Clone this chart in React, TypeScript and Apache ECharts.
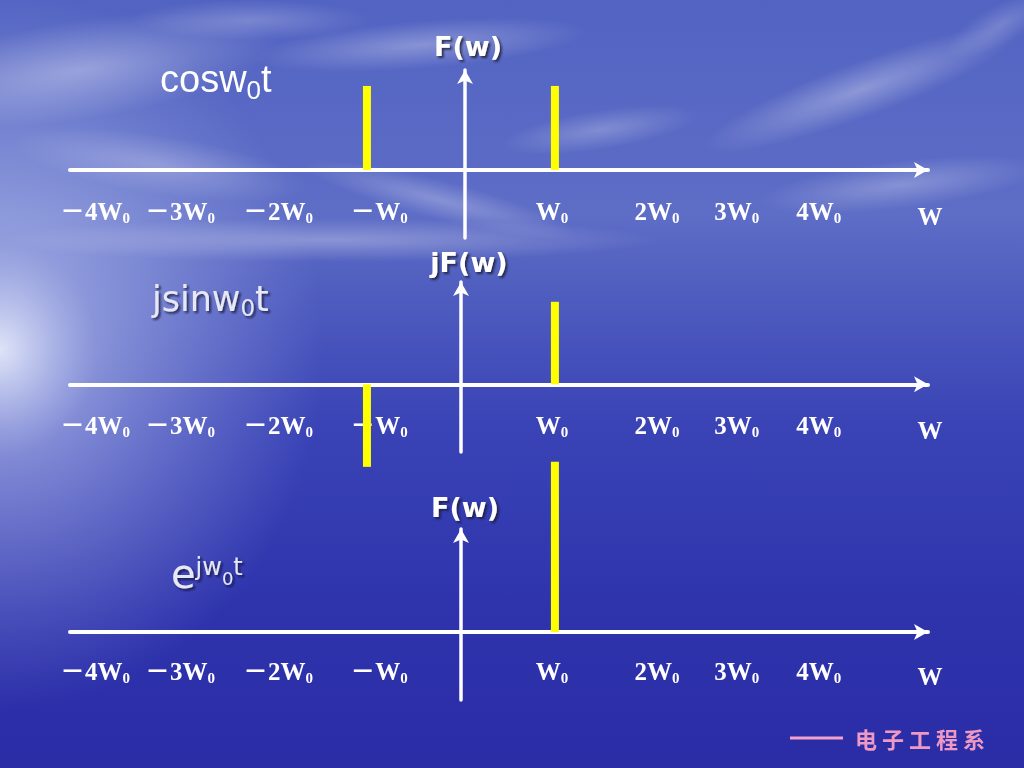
import React, { useEffect, useRef } from "react";
import * as echarts from "echarts";

// ---- data ----
const tickValues = [-4, -3, -2, -1, 1, 2, 3, 4];
const tickLabels = ["－4W", "－3W", "－2W", "－W", "W", "2W", "3W", "4W"];
const endTickValue = 4.95;
const endTickLabel = "W";

const cosFreq = [-1, 1];
const cosAmp = [1, 1];
const sinFreq = [-1, 1];
const sinAmp = [-1, 1];
const expFreq = [1];
const expAmp = [2];

const yNames = ["F(w)", "jF(w)", "F(w)"];
const xRange = [-4.16, 4.97];
const yMin = [-0.81, -0.82, -0.8];
const yMax = [1.19, 1.24, 1.21];

// ---- layout (not data) ----
const gridTop = [70, 282, 529];
const gridHeight = [168, 170, 171];
const yAxisX = [465, 461, 461];
const nameGaps = [10, 6, 8];
const namePadLeft = [6, 16, 8];
const labelMargins = [-39, -39, -41];
const labelShift = [10, 1, 5, 12, -3, 8, -6, -18];
const endLabelShift = 4;

const SERIF = "'Liberation Serif','Times New Roman','Noto Sans CJK SC',serif";
const SANS_V = "'DejaVu Sans','Noto Sans',sans-serif";

function labelFormatter(v: number) {
  if (Math.abs(v - endTickValue) < 1e-6) return "{w|" + endTickLabel + "}";
  const i = tickValues.findIndex((t) => Math.abs(t - v) < 1e-6);
  if (i < 0) return "";
  return "{a" + i + "|" + tickLabels[i] + "}{s" + i + "|0}";
}

const richLabel: any = {
  w: {
    fontFamily: SERIF, fontWeight: "bold", fontSize: 25, color: "#ffffff", lineHeight: 26,
    verticalAlign: "top", padding: [5, 0, 0, Math.max(0, 2 * endLabelShift)],
  },
};
labelShift.forEach((d, i) => {
  richLabel["a" + i] = {
    fontFamily: SERIF, fontWeight: "bold", fontSize: 25, color: "#ffffff", lineHeight: 26,
    verticalAlign: "top", padding: [0, 0, 0, Math.max(0, 2 * d)],
  };
  richLabel["s" + i] = {
    fontFamily: SERIF, fontWeight: "bold", fontSize: 15, color: "#ffffff", lineHeight: 15,
    verticalAlign: "top", padding: [11, Math.max(0, -2 * d), 0, 0],
  };
});

const clouds = [
  { x: 80, y: 70, r: 50, sx: 4, rot: 0.15, o: 0.34 },
  { x: 420, y: 45, r: 24, sx: 7, rot: 0.08, o: 0.3 },
  { x: 440, y: 200, r: 20, sx: 7, rot: -0.25, o: 0.26 },
  { x: 600, y: 130, r: 20, sx: 5, rot: 0.15, o: 0.24 },
  { x: 860, y: 90, r: 28, sx: 6, rot: 0.35, o: 0.32 },
  { x: 900, y: 185, r: 24, sx: 6, rot: 0.12, o: 0.26 },
  { x: 160, y: 165, r: 30, sx: 5, rot: -0.15, o: 0.24 },
  { x: 330, y: 240, r: 22, sx: 15, rot: 0, o: 0.3 },
  { x: 1000, y: 25, r: 20, sx: 3, rot: 0.5, o: 0.2 },
  { x: 250, y: 20, r: 20, sx: 6, rot: 0, o: 0.22 },
];

export default function App() {
  const ref = useRef<HTMLDivElement>(null);
  useEffect(() => {
    if (!ref.current) return;
    const chart = echarts.init(ref.current, null, { renderer: "svg" });

    const bg: any[] = [
      {
        type: "rect",
        z: -10,
        silent: true,
        shape: { x: 0, y: 0, width: 1024, height: 768 },
        style: {
          fill: new echarts.graphic.LinearGradient(0, 0, 0, 1, [
            { offset: 0, color: "#5263c2" },
            { offset: 0.28, color: "#5e6dc6" },
            { offset: 0.36, color: "#5260c0" },
            { offset: 0.55, color: "#3a44b6" },
            { offset: 0.8, color: "#2e33ac" },
            { offset: 1, color: "#2a2ca6" },
          ]),
        },
      },
      {
        type: "circle",
        z: -9,
        silent: true,
        x: 0,
        y: 350,
        scaleX: 0.9,
        shape: { cx: 0, cy: 0, r: 360 },
        style: {
          fill: new echarts.graphic.RadialGradient(0.5, 0.5, 0.5, [
            { offset: 0, color: "rgba(240,244,255,0.9)" },
            { offset: 0.3, color: "rgba(200,210,245,0.5)" },
            { offset: 1, color: "rgba(180,190,240,0)" },
          ]),
        },
      },
      ...clouds.map((c) => ({
        type: "circle",
        z: -8,
        silent: true,
        x: c.x,
        y: c.y,
        scaleX: c.sx,
        rotation: c.rot,
        shape: { cx: 0, cy: 0, r: c.r },
        style: {
          fill: new echarts.graphic.RadialGradient(0.5, 0.5, 0.5, [
            { offset: 0, color: "rgba(255,255,255," + c.o + ")" },
            { offset: 1, color: "rgba(255,255,255,0)" },
          ]),
        },
      })),
    ];

    const shadow = { textShadowColor: "rgba(20,20,50,0.75)", textShadowOffsetX: 2, textShadowOffsetY: 2, textShadowBlur: 2 };
    const ARIAL = "'Liberation Sans',Arial,sans-serif";

    const titles: any[] = [
      {
        type: "text",
        z: 10,
        x: 160,
        y: 60,
        style: {
          text: "{m|cosw}{s|0}{m|t}",
          align: "left",
          verticalAlign: "top",
          rich: {
            m: { fontFamily: ARIAL, fontSize: 38, fill: "#ffffff", verticalAlign: "top" },
            s: { fontFamily: ARIAL, fontSize: 26, fill: "#ffffff", verticalAlign: "top", padding: [17, 0, 0, 0] },
          },
        },
      },
      {
        type: "text",
        z: 10,
        x: 152,
        y: 281,
        style: {
          text: "{m|jsinw}{s|0}{m|t}",
          align: "left",
          verticalAlign: "top",
          rich: {
            m: { fontFamily: SANS_V, fontSize: 35, fill: "#e6e8f6", verticalAlign: "top", ...shadow },
            s: { fontFamily: SANS_V, fontSize: 23, fill: "#e6e8f6", verticalAlign: "top", padding: [15, 0, 0, 0], ...shadow },
          },
        },
      },
      {
        type: "text",
        z: 10,
        x: 171,
        y: 551,
        style: {
          text: "{e|e}{p|jw}{s|0}{p|t}",
          align: "left",
          verticalAlign: "top",
          rich: {
            e: { fontFamily: SANS_V, fontSize: 40, fill: "#e6e8f6", verticalAlign: "top", padding: [3, 0, 0, 0], ...shadow },
            p: { fontFamily: SANS_V, fontSize: 24, fill: "#e6e8f6", verticalAlign: "top", padding: [4, 0, 0, 0], ...shadow },
            s: { fontFamily: SANS_V, fontSize: 18, fill: "#e6e8f6", verticalAlign: "top", padding: [18, 0, 0, 0], ...shadow },
          },
        },
      },
      {
        type: "line",
        z: 10,
        shape: { x1: 790, y1: 738, x2: 843, y2: 738 },
        style: { stroke: "#f2a2cc", lineWidth: 3 },
      },
      {
        type: "text",
        z: 10,
        x: 855,
        y: 738,
        style: {
          text: "电 子 工 程 系",
          fontFamily: "'Noto Sans CJK SC',sans-serif",
          fontWeight: "bold",
          fontSize: 22,
          fill: "#ee98c4",
          align: "left",
          verticalAlign: "middle",
        },
      },
    ];

    const grids = [0, 1, 2].map((i) => ({
      left: 70,
      width: 858,
      top: gridTop[i],
      height: gridHeight[i],
      containLabel: false,
      outerBoundsMode: "none",
    }));

    const xAxes = [0, 1, 2].map((i) => ({
      type: "value",
      gridIndex: i,
      min: xRange[0],
      max: xRange[1],
      axisLine: {
        show: true,
        onZero: true,
        symbol: ["none", "arrow"],
        symbolSize: [12, 14],
        lineStyle: { color: "#ffffff", width: 4 },
      },
      axisTick: { show: false },
      splitLine: { show: false },
      axisLabel: {
        show: true,
        margin: labelMargins[i],
        hideOverlap: false,
        customValues: [...tickValues, endTickValue],
        formatter: labelFormatter,
        rich: richLabel,
      },
    }));

    const yAxes = [0, 1, 2].map((i) => ({
      type: "value",
      gridIndex: i,
      min: yMin[i],
      max: yMax[i],
      position: "left",
      offset: -(yAxisX[i] - 70),
      name: yNames[i],
      nameLocation: "end",
      nameGap: nameGaps[i],
      nameTextStyle: {
        fontFamily: SANS_V,
        fontWeight: "bold",
        fontSize: 27,
        color: "#ffffff",
        align: "center",
        padding: [0, 0, 0, namePadLeft[i]],
        textShadowColor: "rgba(20,20,50,0.8)",
        textShadowOffsetX: 2,
        textShadowOffsetY: 2,
        textShadowBlur: 2,
      },
      axisLine: {
        show: true,
        onZero: false,
        symbol: ["none", "arrow"],
        symbolSize: [12, 14],
        lineStyle: { color: "#ffffff", width: 3.5 },
      },
      axisTick: { show: false },
      axisLabel: { show: false },
      splitLine: { show: false },
    }));

    const mk = (fx: number[], amp: number[]) => fx.map((f, k) => [f, amp[k]]);
    const seriesData = [mk(cosFreq, cosAmp), mk(sinFreq, sinAmp), mk(expFreq, expAmp)];

    chart.setOption({
      animation: false,
      graphic: { elements: [...bg, ...titles] },
      grid: grids,
      xAxis: xAxes,
      yAxis: yAxes,
      series: seriesData.map((d, i) => ({
        type: "bar",
        xAxisIndex: i,
        yAxisIndex: i,
        data: d,
        barWidth: 8,
        clip: false,
        z: 3,
        itemStyle: { color: "#ffff00" },
      })),
    });
    return () => chart.dispose();
  }, []);
  return (
    <div
      ref={ref}
      style={{ position: "fixed", left: 0, top: 0, width: 1024, height: 768 }}
    />
  );
}
